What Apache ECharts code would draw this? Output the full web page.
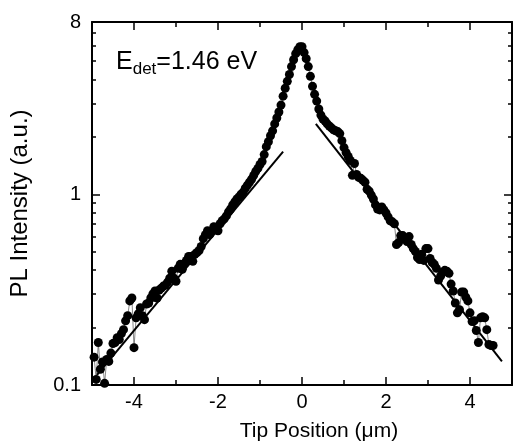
<!DOCTYPE html>
<html>
<head>
<meta charset="utf-8">
<script src="https://cdn.jsdelivr.net/npm/echarts@6/dist/echarts.min.js"></script>
<style>html,body{margin:0;padding:0;background:#fff}#c{width:517px;height:447px}</style>
</head>
<body>
<div id="c"></div>
<script>
const positions = [
-4.95,-4.90,-4.85,-4.80,-4.75,-4.70,-4.65,-4.60,-4.55,-4.50,
-4.45,-4.40,-4.35,-4.30,-4.25,-4.20,-4.15,-4.10,-4.05,-4.00,
-3.95,-3.90,-3.85,-3.80,-3.75,-3.70,-3.65,-3.60,-3.55,-3.50,
-3.45,-3.40,-3.35,-3.30,-3.25,-3.20,-3.15,-3.10,-3.05,-3.00,
-2.95,-2.90,-2.85,-2.80,-2.75,-2.70,-2.65,-2.60,-2.55,-2.50,
-2.45,-2.40,-2.35,-2.30,-2.25,-2.20,-2.15,-2.10,-2.05,-2.00,
-1.95,-1.90,-1.85,-1.80,-1.75,-1.70,-1.65,-1.60,-1.55,-1.50,
-1.45,-1.40,-1.35,-1.30,-1.25,-1.20,-1.15,-1.10,-1.05,-1.00,
-0.95,-0.90,-0.85,-0.80,-0.75,-0.70,-0.65,-0.60,-0.55,-0.50,
-0.45,-0.40,-0.35,-0.30,-0.25,-0.20,-0.15,-0.10,-0.05,0.00,
0.05,0.10,0.15,0.20,0.25,0.30,0.35,0.40,0.45,0.50,
0.55,0.60,0.65,0.70,0.75,0.80,0.85,0.90,0.95,1.00,
1.05,1.10,1.15,1.20,1.25,1.30,1.35,1.40,1.45,1.50,
1.55,1.60,1.65,1.70,1.75,1.80,1.85,1.90,1.95,2.00,
2.05,2.10,2.15,2.20,2.25,2.30,2.35,2.40,2.45,2.50,
2.55,2.60,2.65,2.70,2.75,2.80,2.85,2.90,2.95,3.00,
3.05,3.10,3.15,3.20,3.25,3.30,3.35,3.40,3.45,3.50,
3.55,3.60,3.65,3.70,3.75,3.80,3.85,3.90,3.95,4.00,
4.05,4.10,4.15,4.20,4.25,4.30,4.35,4.40,4.45,4.50,
4.55
];
const intensities = [
0.140,0.107,0.167,0.121,0.132,0.102,0.136,0.133,0.147,0.165,
0.167,0.177,0.173,0.186,0.195,0.217,0.231,0.276,0.286,0.157,
0.225,0.236,0.254,0.231,0.220,0.266,0.269,0.286,0.300,0.311,
0.286,0.315,0.322,0.330,0.334,0.346,0.363,0.395,0.363,0.350,
0.409,0.429,0.404,0.434,0.450,0.472,0.472,0.445,0.484,0.495,
0.507,0.532,0.585,0.614,0.644,0.614,0.637,0.676,0.652,0.644,
0.700,0.726,0.743,0.770,0.808,0.837,0.879,0.911,0.944,0.967,
1.000,1.026,1.075,1.115,1.156,1.198,1.257,1.319,1.366,1.433,
1.486,1.614,1.777,1.886,2.026,2.150,2.337,2.512,2.699,2.933,
3.267,3.594,3.907,4.244,4.670,5.07,5.46,5.72,5.93,5.93,
5.53,5.14,4.67,4.15,3.68,3.34,3.08,2.80,2.60,2.48,
2.42,2.34,2.28,2.23,2.18,2.15,2.13,2.08,1.91,1.756,
1.654,1.577,1.503,1.257,1.449,1.271,1.227,1.212,1.184,1.156,
1.063,1.038,0.990,0.944,0.879,0.837,0.828,0.858,0.828,0.798,
0.761,0.726,0.717,0.700,0.545,0.558,0.607,0.607,0.585,0.565,
0.600,0.545,0.519,0.501,0.466,0.455,0.484,0.450,0.519,0.519,
0.461,0.439,0.429,0.409,0.355,0.372,0.390,0.399,0.395,0.385,
0.338,0.311,0.269,0.239,0.248,0.307,0.307,0.289,0.276,0.239,
0.215,0.217,0.193,0.167,0.225,0.228,0.225,0.195,0.163,0.161,
0.161
];
// exponential fits (straight lines on log scale): endpoints
const fitLeftX = [-4.88, -0.45];
const fitLeftY = [0.113, 1.674];
const fitRightX = [0.33, 4.76];
const fitRightY = [2.337, 0.133];

const xMajor = [-4, -2, 0, 2, 4];
const xMinor = [-5, -3, -1, 1, 3, 5];
const yLabels = [0.1, 1, 8];
const yMajor = [1];
const yMinor = [0.2,0.3,0.4,0.5,0.6,0.7,0.8,0.9,2,3,4,5,6,7,8];

const FONT = 'Liberation Sans, Arial, sans-serif';
const chart = echarts.init(document.getElementById('c'), null, {renderer: 'canvas'});

function xAx(pos, ticks, len, showLine, showLabel, name) {
  return {
    type: 'value', min: -5, max: 5, position: pos,
    axisLine: {show: showLine, onZero: false, lineStyle: {color: '#000', width: 2}},
    axisTick: {show: true, inside: true, length: len, customValues: ticks, lineStyle: {color: '#000', width: 1.5}},
    axisLabel: {show: showLabel, customValues: xMajor, margin: 7, color: '#000', fontSize: 20, fontFamily: FONT},
    splitLine: {show: false},
    name: name || '', nameLocation: 'middle', nameGap: 36,
    nameTextStyle: {color: '#000', fontSize: 21, fontFamily: FONT, padding: [0, 0, 0, 34]}
  };
}
function yAx(pos, ticks, len, showLine, showLabel, name) {
  return {
    type: 'log', min: 0.1, max: 8, logBase: 10, position: pos,
    axisLine: {show: showLine, onZero: false, lineStyle: {color: '#000', width: 2}},
    axisTick: {show: true, inside: true, length: len, customValues: ticks, lineStyle: {color: '#000', width: 1.5}},
    axisLabel: {show: showLabel, customValues: yLabels, margin: 11, color: '#000', fontSize: 20, fontFamily: FONT,
      formatter: v => String(v)},
    splitLine: {show: false}, minorTick: {show: false},
    name: name || '', nameLocation: 'middle', nameGap: 60,
    nameTextStyle: {color: '#000', fontSize: 24, fontFamily: FONT}
  };
}

const pts = positions.map((x, i) => [x, intensities[i]]);

chart.setOption({
  animation: false,
  backgroundColor: '#fff',
  grid: {left: 92, right: 5, top: 22, bottom: 61, containLabel: false},
  xAxis: [
    xAx('bottom', xMajor, 8, true, true, 'Tip Position (\u03bcm)'),
    xAx('bottom', xMinor, 5, false, false),
    xAx('top', xMajor, 8, true, false),
    xAx('top', xMinor, 5, false, false)
  ],
  yAxis: [
    yAx('left', yMajor, 8, true, true, 'PL Intensity (a.u.)'),
    yAx('left', yMinor, 4, false, false),
    yAx('right', yMajor, 8, true, false),
    yAx('right', yMinor, 4, false, false)
  ],
  graphic: [{
    type: 'text', left: 116, top: 50,
    style: {
      rich: {
        e: {fontSize: 25, fontFamily: FONT, fill: '#000'},
        s: {fontSize: 17, fontFamily: FONT, fill: '#000', padding: [13, 0, 0, 0]}
      },
      text: '{e|E}{s|det}{e|=1.46 eV}'
    }
  }],
  series: [
    {
      type: 'line', xAxisIndex: 0, yAxisIndex: 0, data: pts,
      symbol: 'circle', symbolSize: 9, showSymbol: true,
      itemStyle: {color: '#000'},
      lineStyle: {color: '#555', width: 0.7},
      z: 3
    },
    {
      type: 'line', xAxisIndex: 0, yAxisIndex: 0,
      data: fitLeftX.map((x, i) => [x, fitLeftY[i]]),
      symbol: 'none', lineStyle: {color: '#000', width: 2}, z: 4
    },
    {
      type: 'line', xAxisIndex: 0, yAxisIndex: 0,
      data: fitRightX.map((x, i) => [x, fitRightY[i]]),
      symbol: 'none', lineStyle: {color: '#000', width: 2}, z: 4
    }
  ]
});
</script>
</body>
</html>
